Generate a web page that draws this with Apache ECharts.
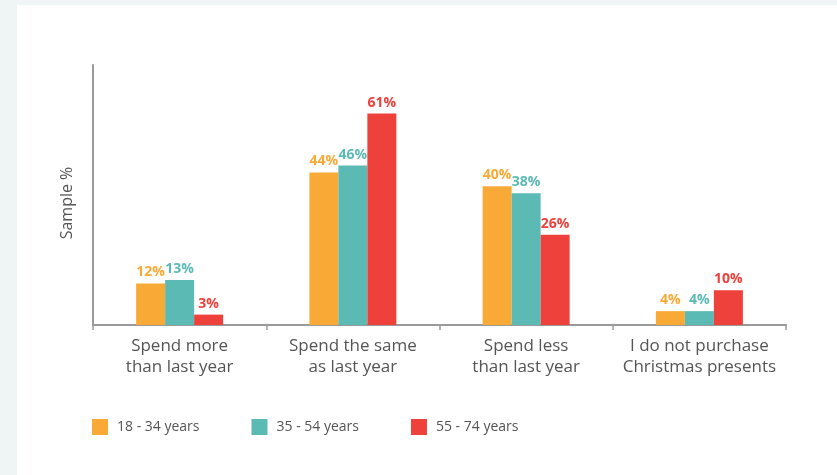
<!DOCTYPE html>
<html><head><meta charset="utf-8">
<script src="https://cdn.jsdelivr.net/npm/echarts@6/dist/echarts.min.js"></script>
<style>html,body{margin:0;padding:0;background:#eff4f4;}#wrap{position:absolute;left:17px;top:5px;width:820px;height:470px;background:#fff;}#c{position:absolute;left:-17px;top:-5px;width:837px;height:475px;}</style>
</head><body><div id="wrap"><div id="c"></div></div>
<script>
const categories = ["Spend more\nthan last year", "Spend the same\nas last year", "Spend less\nthan last year", "I do not purchase\nChristmas presents"];
const seriesNames = ["18 - 34 years", "35 - 54 years", "55 - 74 years"];
const age18to34 = [12, 44, 40, 4];
const age35to54 = [13, 46, 38, 4];
const age55to74 = [3, 61, 26, 10];
const colors = ["#F9AA36", "#5BBAB4", "#EF413C"];

const chart = echarts.init(document.getElementById('c'), null, {renderer: 'canvas'});
const dataSets = [age18to34, age35to54, age55to74];
chart.setOption({
  backgroundColor: 'transparent',
  animation: false,
  textStyle: {fontFamily: 'Open Sans'},
  grid: {left: 93, right: 51, top: 65, bottom: 150, containLabel: false},
  legend: {
    left: 87, top: 414, itemWidth: 16, itemHeight: 16, itemGap: 52,
    icon: 'rect',
    textStyle: {fontFamily: 'Open Sans', fontSize: 14, color: '#555', padding: [0, 0, 0, 4]},
    data: seriesNames
  },
  xAxis: {
    type: 'category', data: categories,
    axisLine: {lineStyle: {color: '#9a9a9a', width: 2}},
    axisTick: {show: true, length: 5, lineStyle: {color: '#9a9a9a', width: 1.5}},
    axisLabel: {interval: 0, fontFamily: 'Open Sans', fontSize: 17, color: '#555', lineHeight: 21, margin: 11}
  },
  yAxis: {
    type: 'value', min: 0, max: 75,
    name: 'Sample %', nameLocation: 'middle', nameGap: 18, nameRotate: 90,
    nameTextStyle: {fontFamily: 'Open Sans', fontSize: 16, color: '#555', padding: [0, 16, 0, 0]},
    axisLine: {show: true, lineStyle: {color: '#9a9a9a', width: 2}},
    axisTick: {show: false}, axisLabel: {show: false}, splitLine: {show: false}
  },
  series: seriesNames.map((n, i) => ({
    name: n, type: 'bar', data: dataSets[i], barWidth: 29, barGap: '0%',
    itemStyle: {color: colors[i]},
    label: {show: true, position: 'top', distance: 4, formatter: '{c}%',
      fontFamily: 'Open Sans', fontWeight: 'bold', fontSize: 14, color: colors[i]}
  }))
});
</script></body></html>
